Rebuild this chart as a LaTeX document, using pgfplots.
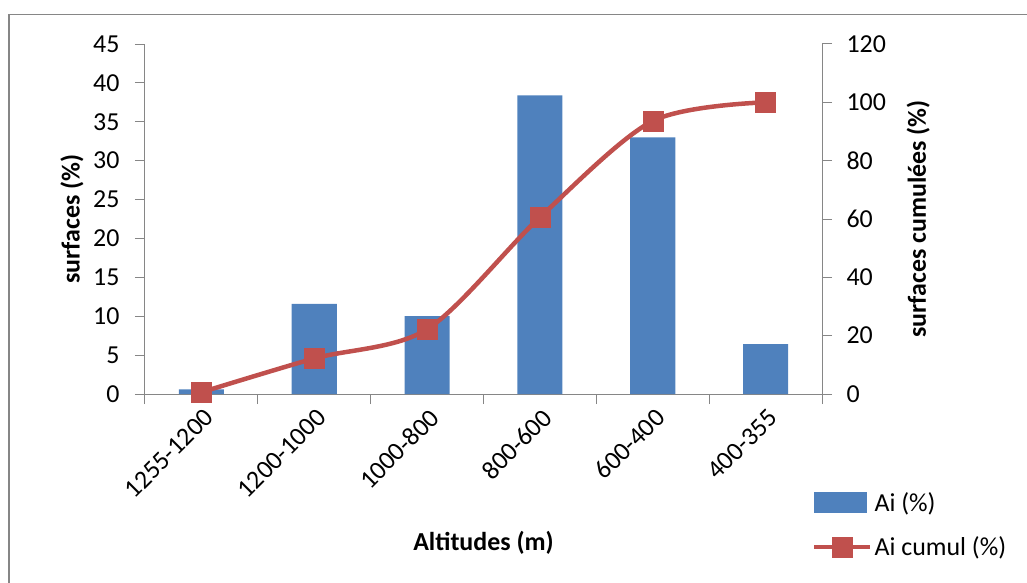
\documentclass[border=0pt]{standalone}
\usepackage{pgfplots}
\pgfplotsset{compat=1.18}
\usepackage{fontspec}
\setmainfont{Carlito}
\definecolor{barblue}{HTML}{4F81BD}
\definecolor{linered}{HTML}{C0504D}
\definecolor{axgray}{HTML}{868686}
\pgfplotsset{
  longline legend/.style={legend image code/.code={\draw[mark repeat=2,mark phase=2,##1] plot coordinates {(0bp,0bp) (28bp,0bp) (56bp,0bp)};}},
  barpatch legend/.style={legend image code/.code={\fill[barblue] (0bp,-10bp) rectangle (52bp,10bp);}},
}
\begin{document}
\begin{tikzpicture}
\useasboundingbox (-145bp,-189bp) rectangle (882bp,394bp);
\draw[axgray, line width=1.5bp] (-136bp,-220bp) rectangle (900bp,379.5bp);
\pgfplotsset{
  every axis/.append style={
    scale only axis, width=677bp, height=350bp,
    at={(0bp,0bp)}, anchor=south west,
    xmin=-0.5, xmax=5.5,
    font=\fontsize{26}{30}\selectfont,
    tick label style={font=\fontsize{26}{30}\selectfont},
    label style={font=\fontsize{26}{30}\selectfont\bfseries},
    /pgf/number format/assume math mode=true,
    axis line style={axgray, line width=1bp},
    tick style={axgray, line width=1bp},
    major tick length=10bp, minor tick length=10bp,
    tick align=outside,
  }
}
\begin{axis}[
  axis x line*=bottom, axis y line*=left,
  ymin=0, ymax=45, ytick={0,5,...,45},
  xtick={0,1,2,3,4,5},
  xticklabels={1255-1200,1200-1000,1000-800,800-600,600-400,400-355},
  major x tick style={draw=none},
  minor xtick={-0.5,0.5,1.5,2.5,3.5,4.5,5.5},
  x tick label style={rotate=45, anchor=east, xshift=2bp, yshift=-12bp},
  y tick label style={xshift=-12bp},
  xlabel={Altitudes (m)},
  ylabel={surfaces (\%)},
  xlabel style={at={(axis description cs:0.5,-0.426)}, anchor=center},
  ylabel style={at={(axis description cs:-0.108,0.5)}, anchor=center},
]
\addplot[ybar, bar width=0.4, fill=barblue, draw=none] coordinates {
  (0,0.6) (1,11.6) (2,10.0) (3,38.4) (4,33.0) (5,6.4)
};
\end{axis}
\begin{axis}[
  axis x line=none, axis y line*=right,
  ymin=0, ymax=120, ytick={0,20,...,120},
  y tick label style={xshift=11bp},
  ylabel={surfaces cumulées (\%)},
  ylabel style={at={(axis description cs:1.142,0.5)}, anchor=center},
  legend style={draw=none, fill=none, at={(axis description cs:0.985,-0.275)}, anchor=north west,
    row sep=20bp, font=\fontsize{26}{30}\selectfont, inner sep=0pt},
  legend cell align=left,
]
\addlegendimage{barpatch legend}
\addlegendentry{Ai (\%)}
\addplot[linered, line width=4.5bp, smooth, tension=0.5, mark=square*,
  mark size=10bp, mark options={solid, fill=linered, draw=linered, line width=0.5bp},
  longline legend
] coordinates {
  (0,0.6) (1,12.2) (2,22.2) (3,60.6) (4,93.6) (5,100)
};
\addlegendentry{Ai cumul (\%)}
\end{axis}
\end{tikzpicture}
\end{document}
